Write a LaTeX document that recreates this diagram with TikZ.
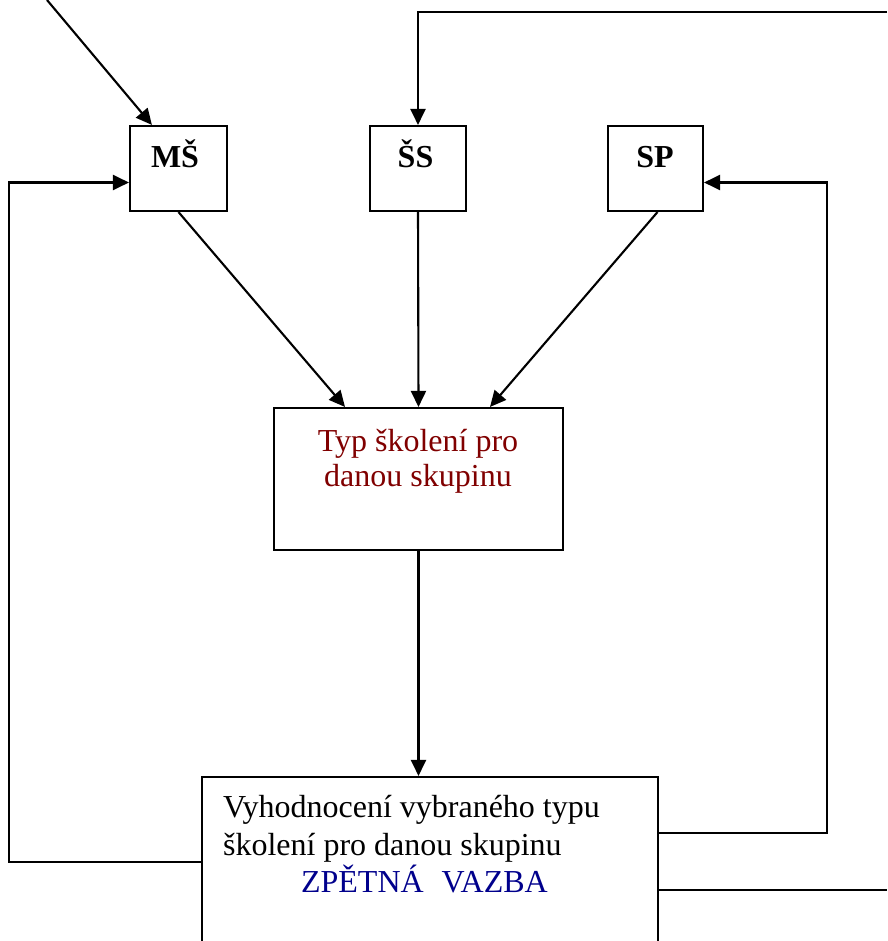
\documentclass[tikz,border=0pt]{standalone}
\usepackage{fontspec}
\setmainfont{Liberation Serif}
\usepackage{xcolor}
\usepackage{tikz}
\usetikzlibrary{arrows.meta}
\usetikzlibrary{positioning}

\definecolor{typred}{RGB}{128,0,0}
\definecolor{vazblue}{RGB}{0,0,140}

\begin{document}
\begin{tikzpicture}[x=1pt,y=-1pt,line width=2.1pt,
		box/.style={draw,rectangle,inner sep=0pt},
		arr/.style={-{Triangle[length=16pt,width=15pt]}},
		txt/.style={inner sep=0pt,font=\fontsize{32}{38}\selectfont}]
		% ---- Page (pixel units) ----
		\def\W{887}   % width
		\def\H{941}   % height
		\clip (0,0) rectangle (\W,\H);
		
		% ---- Group boxes (top row) ----
		\node[box,minimum width=97pt,minimum height=85pt] (ms) at (178.5,168.5) {};
		\node[box,minimum width=96pt,minimum height=85pt] (ss) at (418,168.5) {};
		\node[box,minimum width=95pt,minimum height=85pt] (sp) at (655.5,168.5) {};
		
		% ---- Training type box ----
		\node[box,minimum width=289pt,minimum height=142pt] (typ) at (418.5,479) {};
		
		% ---- Evaluation box (runs off the bottom) ----
		\node[box,minimum width=456pt,minimum height=190pt] (vyh) at (430,872) {};
		
		% ---- Texts ----
		\node[txt,anchor=base] (msT) at (175,168) {\textbf{MŠ}};
		\node[txt,anchor=base] (ssT) at (415.5,168) {\textbf{ŠS}};
		\node[txt,anchor=base] (spT) at (655,168) {\textbf{SP}};
		\node[txt,anchor=north,align=center,text=typred] (typT) at (418,428)
			{Typ školení pro\\[-3pt]danou skupinu};
		\node[txt,anchor=north west,align=left] (vyhT) at (222,794)
			{Vyhodnocení vybraného typu\\školení pro danou skupinu\\[-1pt]
			\hspace*{78pt}\textcolor{vazblue}{ZPĚTNÁ\hspace{18pt}VAZBA}};
		
		% ---- Free ends at the page edge ----
		\coordinate (inL) at (47,0);
		\coordinate (topR) at (\W,12);
		\coordinate (outR) at (\W,890);
		
		% ---- Arrows into the group boxes ----
		\draw[arr] (inL) -- ([xshift=23pt]ms.north west);
		\draw[arr] (topR) -| (ss.north);
		
		% ---- Groups -> training type ----
		\draw[arr] (ms.south) -- ([xshift=-73.5pt]typ.north);
		\draw[arr] (ss.south) -- (typ.north);
		\draw[arr] ([xshift=2pt]sp.south) -- ([xshift=71.5pt]typ.north);
		
		% ---- Training type -> evaluation ----
		\draw[arr] (typ.south) -- (typ.south |- vyh.north);
		
		% ---- Feedback loops ----
		\draw[arr] ([yshift=39pt]vyh.east) -- ++(168,0) |- ([yshift=-14pt]sp.east);
		\draw[arr] ([yshift=10pt]vyh.west) -- ++(-192,0) |- ([yshift=-14pt]ms.west);
		\draw ([yshift=-18pt]vyh.east) -- (outR);
		
	\end{tikzpicture}
\end{document}
